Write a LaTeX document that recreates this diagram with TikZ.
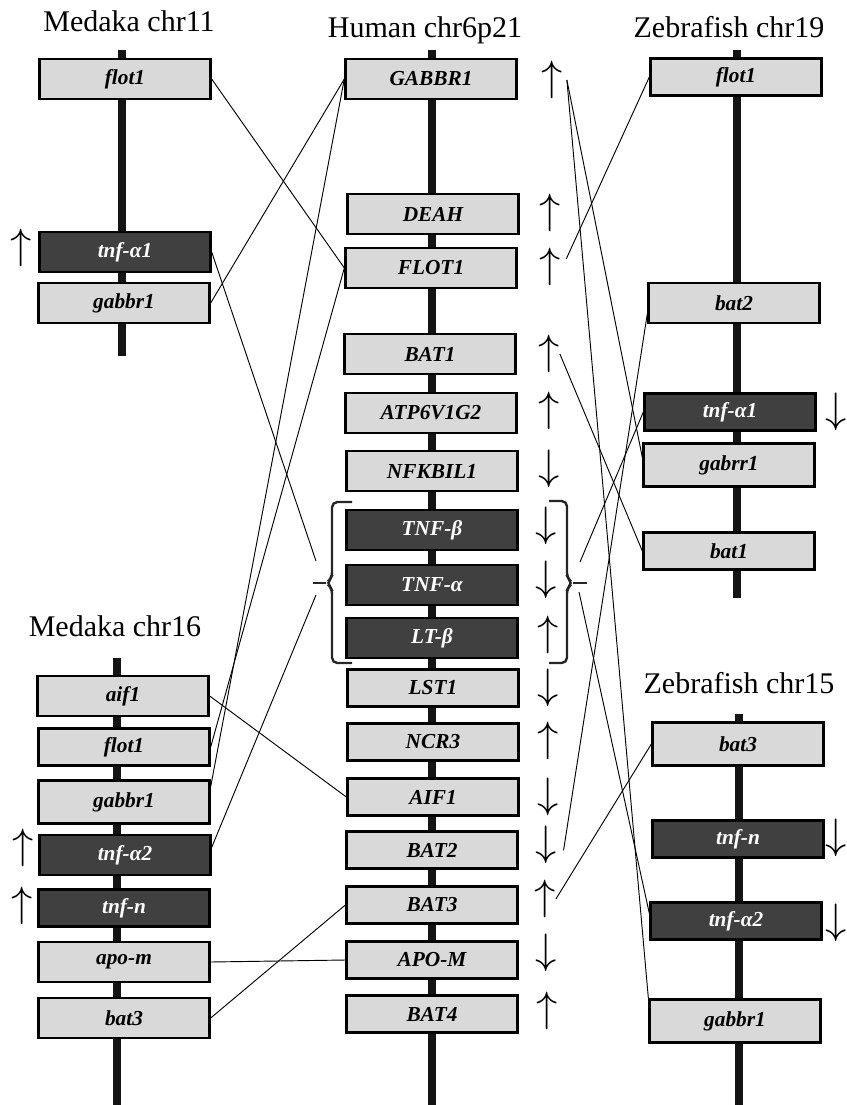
\documentclass[tikz,border=0pt]{standalone}
\usepackage{fontspec}
\setmainfont{Liberation Serif}
\newcommand{\genup}{\scalebox{1.28}{$\uparrow$}}
\newcommand{\gendown}{\scalebox{1.28}{$\downarrow$}}
\tikzset{
    gene/.style={draw=black,line width=2pt,fill=black!15,minimum width=128pt,minimum height=30pt,inner sep=0pt,font=\fontsize{16}{19}\selectfont\bfseries\itshape},
    tnf/.style={gene,fill=black!75,text=white},
    short/.style={minimum height=28pt},
    tall/.style={minimum height=32.5pt},
    chrom/.style={line width=6pt,black!92},
    chrname/.style={anchor=base,font=\fontsize{22.5}{27}\selectfont},
    dir/.style={inner sep=0pt,font=\fontsize{24.88}{25}\selectfont},
    link/.style={line width=0.7pt},
    bracket/.style={line width=1.8pt,black!85,rounded corners=4pt}
}
\begin{document}
\begin{tikzpicture}[x=0.75pt,y=-0.75pt]
    \useasboundingbox (0,0) rectangle (846,1105);
    \draw[chrom] (122,50) -- (122,356);
    \draw[chrom] (432,50) -- (432,1105);
    \draw[chrom] (737,50) -- (737,598);
    \draw[chrom] (117,658) -- (117,1105);
    \draw[chrom] (739,714) -- (739,1105);

    \node[chrname] (t11) at (129,32) {Medaka chr11};
    \node[chrname] (th) at (425,38) {Human chr6p21};
    \node[chrname] (t19) at (729,38) {Zebrafish chr19};
    \node[chrname] (t16) at (115,636) {Medaka chr16};
    \node[chrname] (t15) at (739,693) {Zebrafish chr15};

    \node[gene] (m11flot) at (125,79) {flot1};
    \node[tnf] (m11tnf) at (125,252) {tnf-α1};
    \node[gene] (m11gab) at (124,303) {gabbr1};

    \node[gene] (hGABBR1) at (431,79) {GABBR1};
    \node[gene] (hDEAH) at (433,214) {DEAH};
    \node[gene] (hFLOT1) at (431,268) {FLOT1};
    \node[gene] (hBAT1) at (430,354) {BAT1};
    \node[gene] (hATP) at (431,413) {ATP6V1G2};
    \node[gene] (hNFK) at (432,471) {NFKBIL1};
    \node[tnf] (hTNFb) at (432,530) {TNF-β};
    \node[tnf] (hTNFa) at (432,585) {TNF-α};
    \node[tnf] (hLTb) at (432,638) {LT-β};
    \node[gene,short] (hLST1) at (433,688) {LST1};
    \node[gene,short] (hNCR3) at (433,742) {NCR3};
    \node[gene,short] (hAIF1) at (433,797) {AIF1};
    \node[gene,short] (hBAT2) at (432,850) {BAT2};
    \node[gene,short] (hBAT3) at (432,905) {BAT3};
    \node[gene,short] (hAPOM) at (432,960) {APO-M};
    \node[gene,short] (hBAT4) at (432,1014) {BAT4};

    \node[gene,short] (z19flot) at (736,77) {flot1};
    \node[gene] (z19bat2) at (734,303) {bat2};
    \node[tnf,short] (z19tnf) at (730,412) {tnf-α1};
    \node[gene,tall] (z19gab) at (729,465) {gabrr1};
    \node[gene,short] (z19bat1) at (729,551) {bat1};

    \node[gene] (m16aif) at (123,696) {aif1};
    \node[gene,short] (m16flot) at (124,747) {flot1};
    \node[gene,tall] (m16gab) at (124,802) {gabbr1};
    \node[tnf] (m16tnf2) at (125,855) {tnf-α2};
    \node[tnf,short] (m16tnfn) at (124,908) {tnf-n};
    \node[gene] (m16apo) at (124,962) {apo-m};
    \node[gene] (m16bat3) at (124,1018) {bat3};

    \node[gene,tall] (z15bat3) at (738,744) {bat3};
    \node[tnf,short] (z15tnfn) at (738,839) {tnf-n};
    \node[tnf,short] (z15tnf2) at (736,921) {tnf-α2};
    \node[gene,tall] (z15gab) at (735,1021) {gabbr1};

    \node[dir] (a11tnf) at (21,248) {\genup};
    \node[dir] (a16tnf2) at (23,848) {\genup};
    \node[dir] (a16tnfn) at (22,906) {\genup};
    \node[dir] (a19tnf) at (836,412) {\gendown};
    \node[dir] (a15tnfn) at (836,838) {\gendown};
    \node[dir] (a15tnf2) at (836,923) {\gendown};

    \node[dir] (aGABBR1) at (552,80) {\genup};
    \node[dir] (aDEAH) at (550,213) {\genup};
    \node[dir] (aFLOT1) at (550,267) {\genup};
    \node[dir] (aBAT1) at (549,354) {\genup};
    \node[dir] (aATP) at (549,411) {\genup};
    \node[dir] (aNFK) at (549,469) {\gendown};
    \node[dir] (aTNFb) at (546,526) {\gendown};
    \node[dir] (aTNFa) at (546,580) {\gendown};
    \node[dir] (aLTb) at (548,635) {\genup};
    \node[dir] (aLST1) at (548,688) {\gendown};
    \node[dir] (aNCR3) at (548,741) {\genup};
    \node[dir] (aAIF1) at (548,797) {\gendown};
    \node[dir] (aBAT2) at (546,845) {\gendown};
    \node[dir] (aBAT3) at (545,899) {\genup};
    \node[dir] (aAPOM) at (546,953) {\gendown};
    \node[dir] (aBAT4) at (547,1011) {\genup};

    \draw[bracket] (352,502) -- (332,502) -- (332,578) -- (326,583) -- (332,588) -- (332,663) -- (352,663);
    \draw[bracket] (326,583) -- (313,583);
    \draw[bracket] (549,501) -- (567,501) -- (567,578) -- (573,583) -- (567,588) -- (567,663) -- (549,663);
    \draw[bracket] (573,583) -- (587,583);
    \coordinate (lb1) at (316,561);
    \coordinate (lb2) at (316,595);
    \coordinate (rb1) at (580,562);
    \coordinate (rb2) at (579,592);

    \draw[link] (m11flot.east) -- (hFLOT1.west);
    \draw[link] (m11tnf.east) -- (lb1);
    \draw[link] (m11gab.east) -- (hGABBR1.west);
    \draw[link] (m16aif.east) -- (hAIF1.west);
    \draw[link] (m16flot.east) -- (hFLOT1.west);
    \draw[link] (m16gab.10) -- (hGABBR1.west);
    \draw[link] (m16tnf2.5) -- (lb2);
    \draw[link] (m16apo.east) -- (hAPOM.west);
    \draw[link] (m16bat3.east) -- (hBAT3.west);

    \draw[link] ([xshift=3pt]aGABBR1.east) -- (z19gab.175);
    \draw[link] ([xshift=3pt]aGABBR1.east) -- (z15gab.north west);
    \draw[link] ([xshift=4pt,yshift=6pt]aFLOT1.east) -- (z19flot.west);
    \draw[link] (aBAT1.east) -- (z19bat1.west);
    \draw[link] ([xshift=5pt,yshift=-4pt]aBAT2.east) -- (z19bat2.187);
    \draw[link] (rb1) -- (z19tnf.west);
    \draw[link] (rb2) -- (z15tnf2.175);
    \draw[link] (aBAT3.east) -- (z15bat3.west);
\end{tikzpicture}
\end{document}
